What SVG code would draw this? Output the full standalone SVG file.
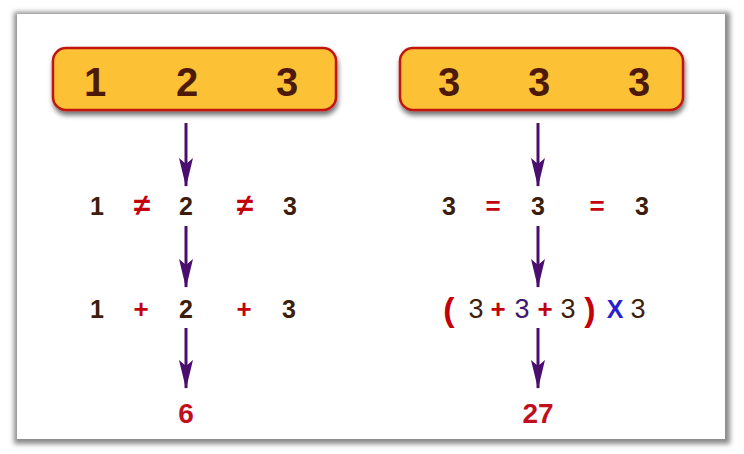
<svg xmlns="http://www.w3.org/2000/svg" width="744" height="454" viewBox="0 0 744 454">
<defs>
<filter id="frameShadow" x="-5%" y="-5%" width="110%" height="110%">
<feGaussianBlur stdDeviation="2.5"/>
</filter>
<filter id="boxShadow" x="-10%" y="-20%" width="120%" height="160%">
<feGaussianBlur in="SourceAlpha" stdDeviation="2.5"/>
<feOffset dx="1" dy="4" result="b"/>
<feComponentTransfer><feFuncA type="linear" slope="0.55"/></feComponentTransfer>
<feMerge><feMergeNode/><feMergeNode in="SourceGraphic"/></feMerge>
</filter>
<marker id="dart" markerWidth="30" markerHeight="16" refX="28" refY="8" orient="auto" markerUnits="userSpaceOnUse" viewBox="0 0 30 16">
<path d="M0 1 L6 8 L0 15 L29 8 Z" fill="#4a0e6e"/>
</marker>
</defs>
<style>
.box{fill:#fdc134;stroke:#c0170f;stroke-width:2.5}
.big{font-family:"Liberation Sans",Arial,sans-serif;font-weight:bold;font-size:40px;fill:#4d1a08;text-anchor:middle}
.num{font-family:"Liberation Sans",Arial,sans-serif;font-weight:bold;font-size:25px;fill:#3d1e0c;text-anchor:middle}
.op{font-family:"Liberation Sans",Arial,sans-serif;font-weight:bold;font-size:26px;fill:#c4000b;text-anchor:middle}
.res{font-family:"Liberation Sans",Arial,sans-serif;font-weight:bold;font-size:28px;fill:#c0101e;text-anchor:middle}
.paren{font-family:"Liberation Sans",Arial,sans-serif;font-weight:bold;font-size:34px;fill:#c4000b;text-anchor:middle}
.conn line{stroke:#4a0e6e;stroke-width:3;marker-end:url(#dart)}
</style>
<rect width="744" height="454" fill="#ffffff"/>
<g id="frame">
<rect x="14" y="12" width="716" height="432" fill="#8a8a8a" filter="url(#frameShadow)"/>
<rect x="17" y="14" width="708" height="425" fill="#ffffff"/>
</g>
<g id="box-left">
<rect class="box" x="53" y="48" width="283" height="62" rx="13" filter="url(#boxShadow)"/>
<text class="big" x="95" y="96">1</text>
<text class="big" x="187" y="96">2</text>
<text class="big" x="287" y="96">3</text>
</g>
<g id="box-right">
<rect class="box" x="400" y="48" width="283" height="62" rx="13" filter="url(#boxShadow)"/>
<text class="big" x="449" y="96">3</text>
<text class="big" x="539" y="96">3</text>
<text class="big" x="639" y="96">3</text>
</g>
<g id="row2-left">
<text class="num" x="97" y="215">1</text>
<text class="op" x="142" y="215" style="font-size:30px">≠</text>
<text class="num" x="186" y="215">2</text>
<text class="op" x="245" y="215" style="font-size:30px">≠</text>
<text class="num" x="290" y="215">3</text>
</g>
<g id="row2-right">
<text class="num" x="449" y="215">3</text>
<text class="op" x="493" y="215">=</text>
<text class="num" x="538" y="215">3</text>
<text class="op" x="597" y="215">=</text>
<text class="num" x="642" y="215">3</text>
</g>
<g id="row3-left">
<text class="num" x="97" y="318">1</text>
<text class="op" x="141" y="318">+</text>
<text class="num" x="186" y="318">2</text>
<text class="op" x="244" y="318">+</text>
<text class="num" x="289" y="318">3</text>
</g>
<g id="row3-right">
<text class="paren" x="449" y="321">(</text>
<text class="num" x="476" y="318" style="font-weight:normal;font-size:27px">3</text>
<text class="op" x="498" y="318">+</text>
<text class="num" x="522" y="318" style="font-weight:normal;font-size:27px;fill:#3a1a6e">3</text>
<text class="op" x="545" y="318">+</text>
<text class="num" x="568" y="318" style="font-weight:normal;font-size:27px">3</text>
<text class="paren" x="590" y="321">)</text>
<text x="615" y="318" style="font-family:'Liberation Sans',Arial,sans-serif;font-weight:bold;font-size:25px;fill:#2a1fd0;text-anchor:middle">X</text>
<text class="num" x="638" y="318" style="font-weight:normal;font-size:27px">3</text>
</g>
<g id="result-left">
<text class="res" x="186" y="423">6</text>
</g>
<g id="result-right">
<text class="res" x="538" y="423">27</text>
</g>
<g class="conn" id="connectors">
<line x1="186" y1="123" x2="186" y2="186"/>
<line x1="186" y1="226" x2="186" y2="287"/>
<line x1="186" y1="328" x2="186" y2="388"/>
<line x1="538" y1="123" x2="538" y2="186"/>
<line x1="538" y1="226" x2="538" y2="287"/>
<line x1="538" y1="328" x2="538" y2="388"/>
</g>
</svg>
